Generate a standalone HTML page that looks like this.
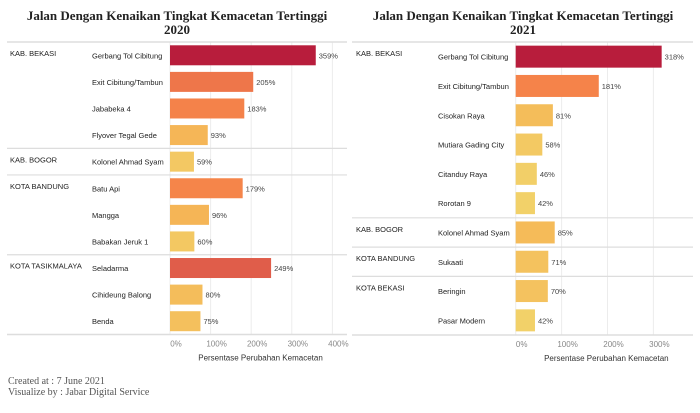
<!DOCTYPE html>
<html><head><meta charset="utf-8"><style>
body{margin:0;background:#fff;width:700px;height:408px;overflow:hidden}
svg text{font-family:"Liberation Sans",sans-serif}
</style></head><body>
<svg id="chart" width="700" height="408" xmlns="http://www.w3.org/2000/svg">
<text x="177" y="20" text-anchor="middle" style="font-family:'Liberation Serif',serif;font-weight:bold;font-size:13px" fill="#222">Jalan Dengan Kenaikan Tingkat Kemacetan Tertinggi</text>
<text x="177" y="34" text-anchor="middle" style="font-family:'Liberation Serif',serif;font-weight:bold;font-size:13px" fill="#222">2020</text>
<text x="523" y="20" text-anchor="middle" style="font-family:'Liberation Serif',serif;font-weight:bold;font-size:13px" fill="#222">Jalan Dengan Kenaikan Tingkat Kemacetan Tertinggi</text>
<text x="523" y="34" text-anchor="middle" style="font-family:'Liberation Serif',serif;font-weight:bold;font-size:13px" fill="#222">2021</text>
<text x="8" y="384" style="font-family:'Liberation Serif',serif;font-size:10px" fill="#555">Created at : 7 June 2021</text>
<text x="8" y="395" style="font-family:'Liberation Serif',serif;font-size:10px" fill="#555">Visualize by : Jabar Digital Service</text>
</svg>
<script>
const groups2020 = ["KAB. BEKASI","KAB. BEKASI","KAB. BEKASI","KAB. BEKASI","KAB. BOGOR","KOTA BANDUNG","KOTA BANDUNG","KOTA BANDUNG","KOTA TASIKMALAYA","KOTA TASIKMALAYA","KOTA TASIKMALAYA"];
const roads2020 = ["Gerbang Tol Cibitung","Exit Cibitung/Tambun","Jababeka 4","Flyover Tegal Gede","Kolonel Ahmad Syam","Batu Api","Mangga","Babakan Jeruk 1","Seladarma","Cihideung Balong","Benda"];
const values2020 = [359,205,183,93,59,179,96,60,249,80,75];
const ticks2020 = [0,100,200,300,400];
const groups2021 = ["KAB. BEKASI","KAB. BEKASI","KAB. BEKASI","KAB. BEKASI","KAB. BEKASI","KAB. BEKASI","KAB. BOGOR","KOTA BANDUNG","KOTA BEKASI","KOTA BEKASI"];
const roads2021 = ["Gerbang Tol Cibitung","Exit Cibitung/Tambun","Cisokan Raya","Mutiara Gading City","Citanduy Raya","Rorotan 9","Kolonel Ahmad Syam","Sukaati","Beringin","Pasar Modern"];
const values2021 = [318,181,81,58,46,42,85,71,70,42];
const ticks2021 = [0,100,200,300];

const svg=document.getElementById('chart');
const NS='http://www.w3.org/2000/svg';
function mk(tag,attrs,parent){const e=document.createElementNS(NS,tag);for(const k in attrs)e.setAttribute(k,attrs[k]);(parent||svg).appendChild(e);return e;}
function color(v){
  const stops=[[40,[242,210,106]],[90,[245,184,87]],[180,[245,132,74]],[250,[224,92,74]],[300,[184,29,60]]];
  if(v<=stops[0][0])return 'rgb('+stops[0][1]+')';
  for(let i=1;i<stops.length;i++){if(v<=stops[i][0]){const a=stops[i-1],b=stops[i],t=(v-a[0])/(b[0]-a[0]);return 'rgb('+a[1].map((c,j)=>Math.round(c+(b[1][j]-c)*t)).join(',')+')';}}
  return 'rgb('+stops[stops.length-1][1]+')';
}
function panel(cfg){
  const {groups,roads,values,ticks,x0,x1,zero,per100,top,bottom,barH,gx,rx,name}=cfg;
  const g=mk('g',{});
  
  
  const n=values.length, rowH=(bottom-top)/n;
  const xs=v=>zero+v/100*per100;
  ticks.forEach(t=>{
    const l=mk('line',{x1:xs(t),x2:xs(t),y1:top,y2:bottom,stroke:'#ececec','stroke-width':1},g);
    
    
    const tx=mk('text',{x:xs(t)+6,y:bottom+12,'text-anchor':'middle','font-size':'8px',fill:'#888'},g);
    
    
    tx.textContent=t+'%';
  });
  values.forEach((v,i)=>{
    const cy=top+rowH*(i+0.5);
    if(i===0||groups[i]!==groups[i-1]){
      const s=mk('line',{x1:x0,x2:x1,y1:top+rowH*i,y2:top+rowH*i,stroke:'#ddd','stroke-width':i===0?1.5:1.2},g);
      
      
      const gt=mk('text',{x:gx,y:top+rowH*i+14,'font-size':'7.5px',fill:'#222'},g);
      
      
      gt.textContent=groups[i];
    }
    const rt=mk('text',{x:rx,y:cy+3,'font-size':'7.5px',fill:'#222'},g);
    
    
    rt.textContent=roads[i];
    const b=mk('rect',{x:zero,y:cy-barH/2,width:xs(v)-zero,height:barH,fill:color(v)},g);
    
    
    const vt=mk('text',{x:xs(v)+3,y:cy+3,'font-size':'7.5px',fill:'#444'},g);
    
    
    vt.textContent=v+'%';
  });
  const bl=mk('line',{x1:x0,x2:x1,y1:bottom,y2:bottom,stroke:'#ddd','stroke-width':1.5},g);
  
  
  const at=mk('text',{x:(zero+x1)/2+2,y:bottom+26,'text-anchor':'middle','font-size':'8px',fill:'#333'},g);
  
  
  at.textContent='Persentase Perubahan Kemacetan';
}
panel({groups:groups2020,roads:roads2020,values:values2020,ticks:ticks2020,x0:7,x1:347,zero:170,per100:40.6,top:42,bottom:334.5,barH:20,gx:10,rx:92,name:'chart-2020'});
panel({groups:groups2021,roads:roads2021,values:values2021,ticks:ticks2021,x0:352,x1:693,zero:515.7,per100:45.9,top:42,bottom:335,barH:22,gx:356,rx:438,name:'chart-2021'});
</script>
</body></html>
